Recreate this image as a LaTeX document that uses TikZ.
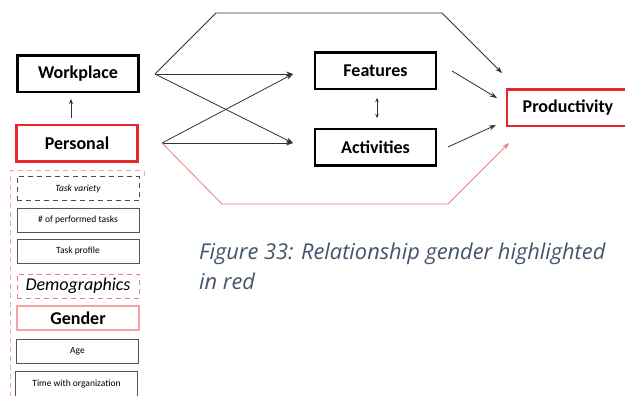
\documentclass[tikz,border=0pt]{standalone}
\usepackage{fontspec}
\setmainfont{Carlito}
\newfontfamily\capfont{Open Sans}
\usetikzlibrary{arrows.meta}
\definecolor{boxred}{HTML}{E8262B}
\definecolor{lightred}{HTML}{F07C7E}
\definecolor{paleRed}{HTML}{F5A3A5}
\definecolor{capcol}{HTML}{44546A}
\definecolor{smallgray}{HTML}{555555}
\tikzset{
  bigbox/.style={draw=black, line width=2.5pt, minimum width=121pt, minimum height=36.5pt, inner sep=0pt, font=\fontsize{18}{20}\selectfont\bfseries},
  redbox/.style={bigbox, draw=boxred},
  smallbox/.style={draw=smallgray, line width=1pt, minimum width=122pt, minimum height=24pt, inner sep=0pt, font=\fontsize{9.5}{10}\selectfont},
  conn/.style={draw=black!80, line width=0.8pt},
  arr/.style={conn, -{Stealth[length=7pt,width=5pt]}},
  redconn/.style={draw=lightred, line width=0.8pt},
  captext/.style={anchor=base west, inner sep=0pt, text=capcol, font=\capfont\itshape\fontsize{21.8}{24}\selectfont},
}
\begin{document}
\begin{tikzpicture}[x=1pt,y=-1pt]
\useasboundingbox (0,0) rectangle (625,396);
\fill[white] (0,0) rectangle (625,396);

% main boxes
\node[bigbox] (work) at (78,74) {Workplace};
\node[redbox] (pers) at (77,143.5) {Personal};
\node[bigbox] (feat) at (375.5,71) {Features};
\node[bigbox] (act) at (375.5,147.5) {Activities};
\node[redbox, minimum width=122pt] (prod) at (568,108) {Productivity};

% connector points
\coordinate (wo) at (155,74);
\coordinate (po) at (162,143);
\coordinate (fi) at (293,74);
\coordinate (ai) at (293,143);
\coordinate (t1) at (216,13);
\coordinate (t2) at (442,13);
\coordinate (pt) at (502,73);
\coordinate (fo) at (452,71);
\coordinate (pf) at (497,98);
\coordinate (ao) at (448,147);
\coordinate (pa) at (496,125);
\coordinate (r1) at (222,204);
\coordinate (r2) at (448,204);
\coordinate (pr) at (509,143);
\coordinate (pw1) at (71,118);
\coordinate (pw2) at (71,99);
\coordinate (fa1) at (377,98);
\coordinate (fa2) at (377,118);

\draw[arr] (wo) -- (fi);
\draw[arr] (wo) -- (ai);
\draw[arr] (po) -- (fi);
\draw[arr] (po) -- (ai);
\draw[arr] (wo) -- (t1) -- (t2) -- (pt);
\draw[arr] (fo) -- (pf);
\draw[arr] (ao) -- (pa);
\draw[redconn, -{Stealth[length=7pt,width=5pt]}] (po) -- (r1) -- (r2) -- (pr);
\draw[conn, -{Stealth[length=5pt,width=4pt]}] (pw1) -- (pw2);
\draw[conn, line width=0.6pt, {Stealth[length=4pt,width=3.5pt]}-{Stealth[length=4pt,width=3.5pt]}] (fa1) -- (fa2);

% left container
\draw[paleRed, line width=1pt, dash pattern=on 5pt off 4pt] (144,176) -- (144,171) -- (10,171) -- (10,400);

% small boxes
\node[smallbox, draw=black!70, dash pattern=on 5pt off 4pt, font=\fontsize{9.5}{10}\selectfont\itshape] (tv) at (78,188.5) {Task variety};
\node[smallbox] (npt) at (78,220) {\# of performed tasks};
\node[smallbox] (tp) at (78,251) {Task profile};
\node[smallbox, draw=lightred, dash pattern=on 5pt off 4pt, font=\fontsize{18}{19}\selectfont\itshape] (demo) at (78,286) {Demographics};
\node[smallbox, draw=paleRed, line width=1.5pt, font=\fontsize{18}{20}\selectfont\bfseries] (gen) at (78,318) {Gender};
\node[smallbox] (age) at (77.5,351) {Age};
\node[smallbox, minimum height=26pt] (time) at (76.5,384) {Time with organization};

% caption
\node[captext] (cap1) at (199,259) {Figure 33: Relationship gender highlighted};
\node[captext] (cap2) at (199,289) {in red};
\end{tikzpicture}
\end{document}
